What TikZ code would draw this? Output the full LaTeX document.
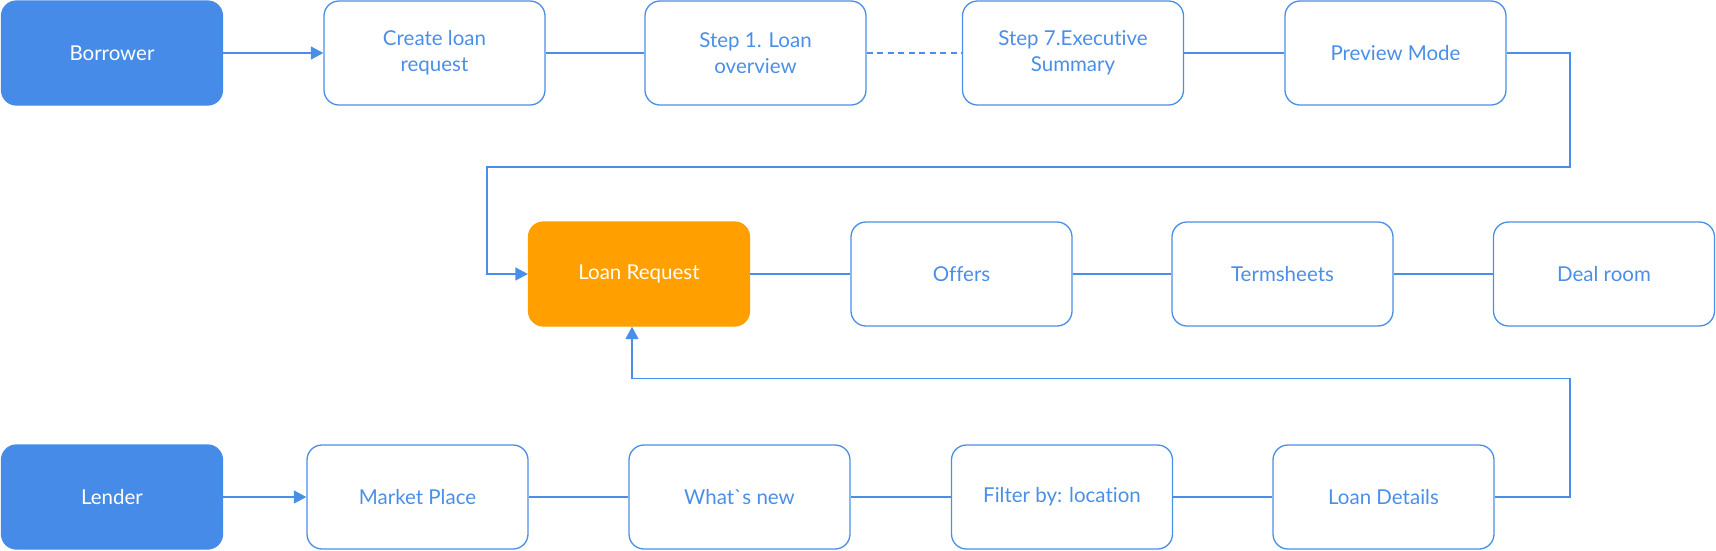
\documentclass[tikz,border=0pt]{standalone}
\usepackage{fontspec}
\setmainfont{Lato}[Ligatures={TeX,NoCommon}]
\usetikzlibrary{arrows.meta}
\definecolor{lineblue}{HTML}{4A8FE7}
\definecolor{fillblue}{HTML}{468BE8}
\definecolor{orangefill}{HTML}{FF9F00}
\begin{document}
\begin{tikzpicture}[x=1pt,y=-1pt,
  box/.style={draw=lineblue, line width=1.3pt, rounded corners=15pt,
    minimum width=221pt, minimum height=104pt, align=center,
    text=lineblue, font=\fontsize{20.5}{26}\selectfont, inner sep=0pt},
  actor/.style={box, fill=fillblue, draw=fillblue, text=white},
  hub/.style={box, fill=orangefill, draw=orangefill, text=white},
  link/.style={draw=lineblue, line width=1.3pt},
  arr/.style={link, -{Triangle[length=12.5pt,width=13pt]}}]
\useasboundingbox (0,0) rectangle (1716,550);
% row 1
\node[actor] (borrower) at (112,53) {Borrower};
\node[box] (create) at (434.5,53) {Create loan\\request};
\node[box] (step1) at (755.5,53) {Step 1. Loan\\overview};
\node[box] (step7) at (1073,53) {Step 7.Executive\\Summary};
\node[box] (preview) at (1395.5,53) {Preview Mode};
% row 2
\node[hub] (loanreq) at (639,274) {Loan Request};
\node[box] (offers) at (961.5,274) {Offers};
\node[box] (terms) at (1282.5,274) {Termsheets};
\node[box] (deal) at (1604,274) {Deal room};
% row 3
\node[actor] (lender) at (112,497) {Lender};
\node[box] (market) at (417.5,497) {Market Place};
\node[box] (whatsnew) at (739.5,497) {What\textasciigrave s new};
\node[box] (filter) at (1062,497) {Filter by: location};
\node[box] (details) at (1383.5,497) {Loan Details};
% route coordinates
\coordinate (rtop) at (1570,167);
\coordinate (ltop) at (487,167);
\coordinate (rbot) at (1570,378.5);
\coordinate (lbot) at (632,378.5);
% connectors row 1
\draw[arr] (borrower) -- (create);
\draw[link] (create) -- (step1);
\draw[link, dash pattern=on 6pt off 4.5pt] (step1) -- (step7);
\draw[link] (step7) -- (preview);
\draw[arr] (preview.east) -| (rtop) -- (ltop) |- (loanreq.west);
% row 2
\draw[link] (loanreq) -- (offers);
\draw[link] (offers) -- (terms);
\draw[link] (terms) -- (deal);
% row 3
\draw[arr] (lender) -- (market);
\draw[link] (market) -- (whatsnew);
\draw[link] (whatsnew) -- (filter);
\draw[link] (filter) -- (details);
\draw[arr] (details.east) -| (rbot) -- (lbot) -- (lbot |- loanreq.south);
\end{tikzpicture}
\end{document}
